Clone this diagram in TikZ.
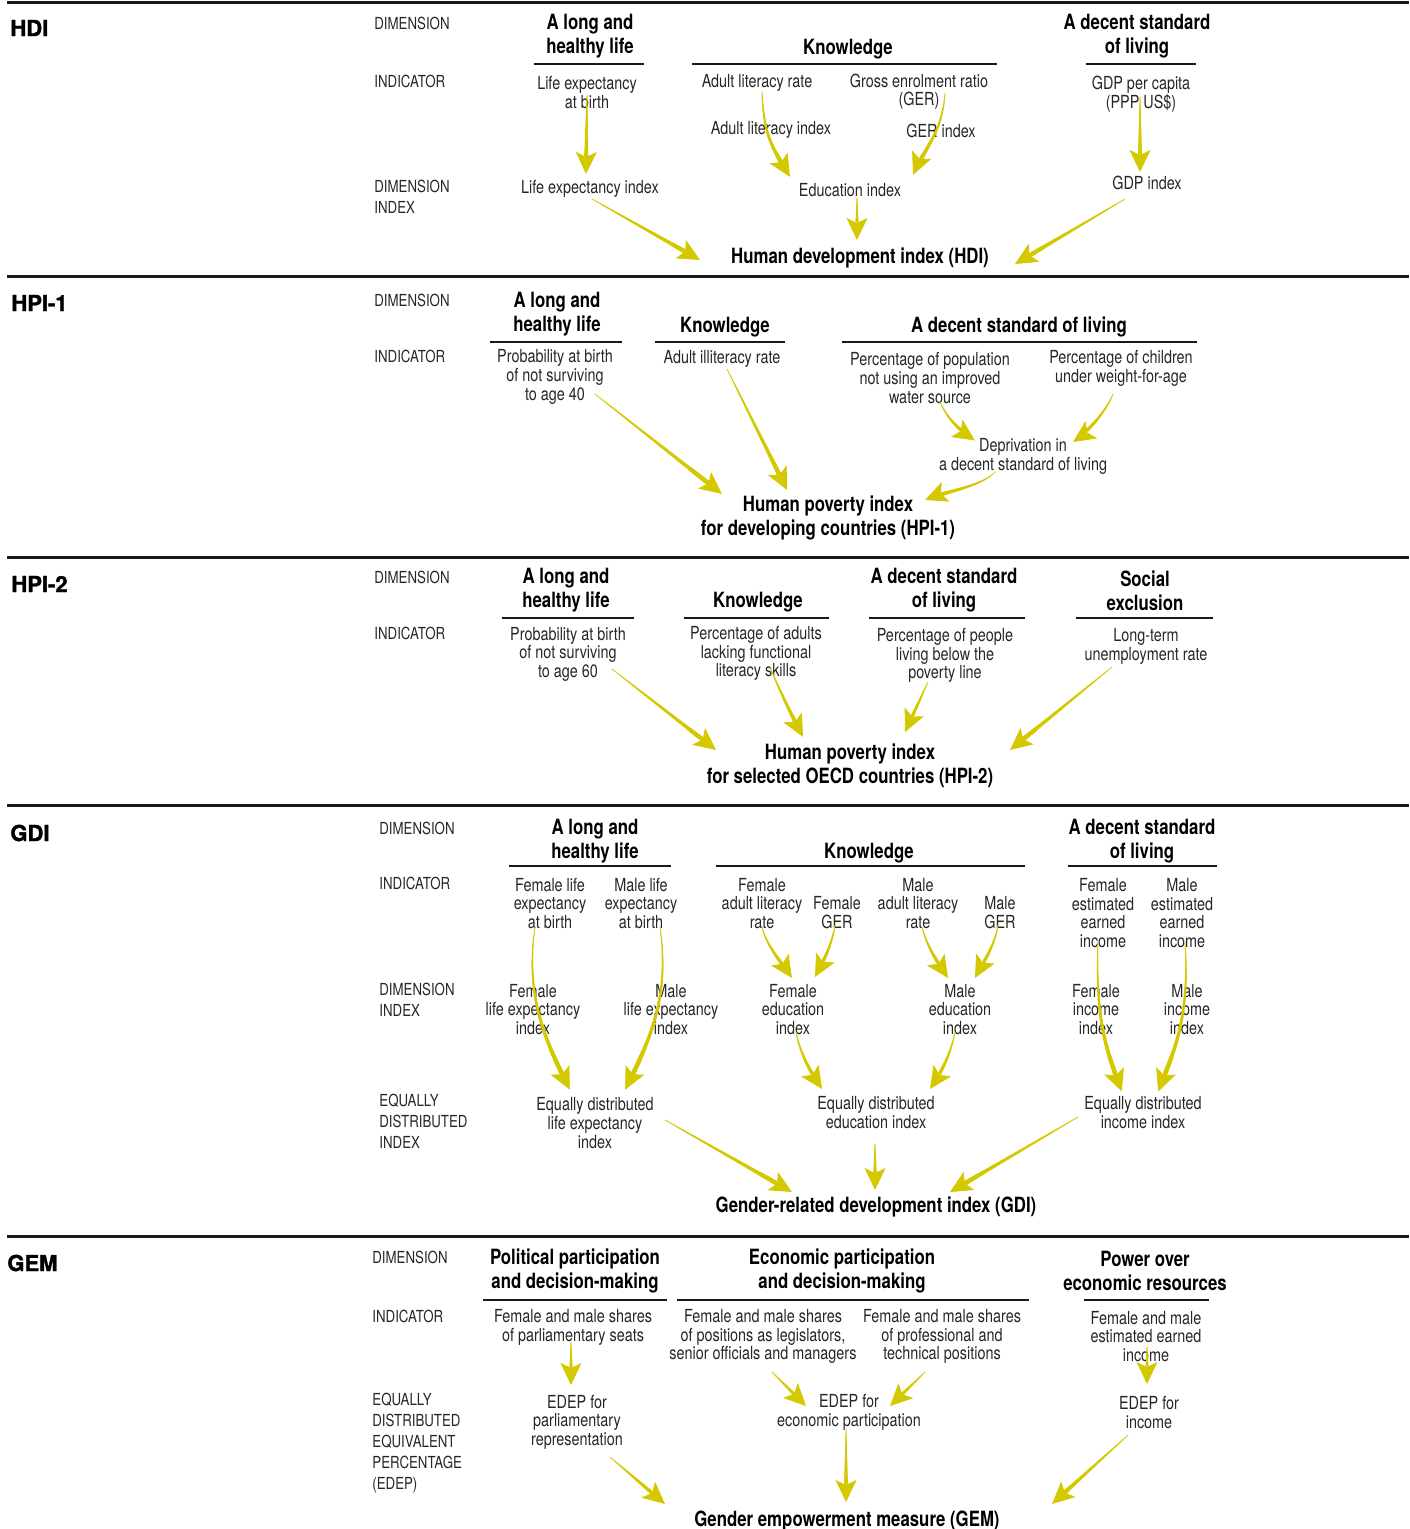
\documentclass[tikz,border=0pt]{standalone}
\usepackage{fontspec}
\setmainfont{TeX Gyre Heros}[FakeStretch=0.8]
\newfontfamily\secfont{TeX Gyre Heros}[BoldFeatures={FakeBold=1.6}]
\usepackage{tikz}
\usetikzlibrary{
  calc,%
  arrows.meta,%
  % tapered arrows
  decorations.markings
}
\definecolor{flowyellow}{RGB}{212,200,0}
\newcommand{\diagtext}{\fontsize{9}{9.3}\selectfont}
\newcommand{\diaghead}{\bfseries\fontsize{10.5}{12}\selectfont}
\newcommand{\diagrow}{\fontsize{8.3}{10.5}\selectfont}
\tikzset{
  txt/.style={font=\diagtext, align=center, inner sep=1pt, text=black!85, yshift=-1pt},
  head/.style={font=\diaghead, align=center, inner sep=1pt, yshift=-1pt},
  result/.style={font=\diaghead, align=center, inner sep=1pt, yshift=-1pt},
  rowlab/.style={font=\diagrow, align=left, anchor=west, inner sep=0pt, text=black!85},
  seclab/.style={font=\secfont\bfseries\fontsize{11}{12}\selectfont, anchor=west, inner sep=0pt},
  bigrule/.style={line width=1.5pt, black!90},
  headrule/.style={line width=0.75pt, black!90},
  flow/.style={
    postaction={decorate, decoration={markings,
      mark=between positions 0 and -9pt step 0.3pt with {%
        \pgfmathsetmacro\flowrad{0.25+1.0*\pgfkeysvalueof{/pgf/decoration/mark info/distance from start}/\pgfdecoratedpathlength}%
        \fill[flowyellow] (0,0) circle[radius=\flowrad pt];},
      mark=at position 1 with {\arrow[color=flowyellow]{Stealth[length=11pt,width=10.5pt,inset=2.5pt]}}}}
  },
}
\begin{document}
\begin{tikzpicture}[x=0.5pt, y=-0.5pt]
  \useasboundingbox (0,0) rectangle (1409,1529);
  % section rules
  \foreach \ry in {3,277,557,805,1236}
    \draw[bigrule] (7,\ry) -- (1409,\ry);

  %%% HDI
  \node[seclab] (hdi) at (10,28) {HDI};
  \node[rowlab] (hdirow1) at (374,23) {DIMENSION};
  \node[rowlab] (hdirow2) at (374,81) {INDICATOR};
  \node[rowlab] (hdirow3) at (374,196.5) {DIMENSION\\INDEX};
  \node[head] (hlife) at (590,34) {A long and\\healthy life};
  \node[head] (hknow) at (848,47) {Knowledge};
  \node[head] (hliving) at (1137,34) {A decent standard\\of living};
  \draw[headrule] (534,64) -- (644,64);
  \draw[headrule] (692,64) -- (997,64);
  \draw[headrule] (1086,64) -- (1196,64);
  \node[txt] (ileb) at (587,90.5) {Life expectancy\\at birth};
  \node[txt] (ialr) at (757,81) {Adult literacy rate};
  \node[txt] (iger) at (919,89.5) {Gross enrolment ratio\\(GER)};
  \node[txt] (igdp) at (1141,92) {GDP per capita\\(PPP US\$)};
  \node[txt] (xali) at (771,128) {Adult literacy index};
  \node[txt] (xger) at (941,129) {GER index};
  \node[txt] (xlei) at (590,187) {Life expectancy index};
  \node[txt] (xedu) at (850,188) {Education index};
  \node[txt] (xgdp) at (1147,181) {GDP index};
  \node[result] (rhdi) at (860,256) {Human development index (HDI)};
  \path[flow] ($(ileb.center)+(0,3)$) -- ($(xlei.center)+(-4,-15)$);
  \path[flow] ($(ialr.center)+(5,9)$) .. controls +(2,45) and +(-18,-30) .. ($(xedu.center)+(-60,-13)$);
  \path[flow] ($(iger.center)+(26,2)$) .. controls +(-3,40) and +(12,-28) .. ($(xedu.center)+(63,-15)$);
  \path[flow] ($(xedu.center)+(7,8)$) -- ($(rhdi.center)+(-3,-18)$);
  \path[flow] ($(xlei.center)+(2,10)$) -- ($(rhdi.center)+(-160,2)$);
  \path[flow] ($(igdp.center)+(-1,3)$) -- ($(xgdp.center)+(-7,-11)$);
  \path[flow] ($(xgdp.center)+(-22,16)$) -- ($(rhdi.center)+(155,6)$);

  %%% HPI-1
  \node[seclab] (hpione) at (11,303) {HPI-1};
  \node[rowlab] (hpionerow1) at (374,300) {DIMENSION};
  \node[rowlab] (hpionerow2) at (374,356) {INDICATOR};
  \node[head] (p1life) at (557,312) {A long and\\healthy life};
  \node[head] (p1know) at (725,325) {Knowledge};
  \node[head] (p1living) at (1019,325) {A decent standard of living};
  \draw[headrule] (490,342) -- (622,342);
  \draw[headrule] (655,342) -- (785,342);
  \draw[headrule] (842,342) -- (1197,342);
  \node[txt] (p1prob) at (555,375) {Probability at birth\\of not surviving\\to age 40};
  \node[txt] (p1illit) at (722,357) {Adult illiteracy rate};
  \node[txt] (p1water) at (930,376) {Percentage of population\\not using an improved\\water source};
  \node[txt] (p1child) at (1121,366.5) {Percentage of children\\under weight-for-age};
  \node[txt] (p1dep) at (1023,454.5) {Deprivation in\\a decent standard of living};
  \node[result] (rhpione) at (828,516) {Human poverty index\\for developing countries (HPI-1)};
  \path[flow] ($(p1prob.center)+(40,17)$) -- ($(rhpione.center)+(-106,-24)$);
  \path[flow] ($(p1illit.center)+(5,10)$) -- ($(rhpione.center)+(-41,-28)$);
  \path[flow] ($(p1water.center)+(10,24)$) .. controls +(8,18) and +(-15,-10) .. ($(p1dep.center)+(-48,-16)$);
  \path[flow] ($(p1child.center)+(-8,25.5)$) .. controls +(-8,20) and +(12,-8) .. ($(p1dep.center)+(50,-14.5)$);
  \path[flow] ($(p1dep.center)+(-28,15.5)$) .. controls +(-15,15) and +(25,-10) .. ($(rhpione.center)+(97,-18)$);

  %%% HPI-2
  \node[seclab] (hpitwo) at (11,584) {HPI-2};
  \node[rowlab] (hpitworow1) at (374,577) {DIMENSION};
  \node[rowlab] (hpitworow2) at (374,633) {INDICATOR};
  \node[head] (p2life) at (566,588.5) {A long and\\healthy life};
  \node[head] (p2know) at (758,600) {Knowledge};
  \node[head] (p2living) at (944,588.5) {A decent standard\\of living};
  \node[head] (p2social) at (1145,588.5) {Social\\exclusion};
  \draw[headrule] (502,618) -- (634,618);
  \draw[headrule] (684,618) -- (829,618);
  \draw[headrule] (869,618) -- (1025,618);
  \draw[headrule] (1076,618) -- (1213,618);
  \node[txt] (p2prob) at (568,652) {Probability at birth\\of not surviving\\to age 60};
  \node[txt] (p2lit) at (756,651.5) {Percentage of adults\\lacking functional\\literacy skills};
  \node[txt] (p2pov) at (945,653.5) {Percentage of people\\living below the\\poverty line};
  \node[txt] (p2unemp) at (1146,644.5) {Long-term\\unemployment rate};
  \node[result] (rhpitwo) at (850,764) {Human poverty index\\for selected OECD countries (HPI-2)};
  \path[flow] ($(p2prob.center)+(44,15)$) -- ($(rhpitwo.center)+(-134,-16)$);
  \path[flow] ($(p2lit.center)+(14,13.5)$) .. controls +(10,25) and +(-8,-15) .. ($(rhpitwo.center)+(-47,-29)$);
  \path[flow] ($(p2pov.center)+(-17,26.5)$) -- ($(rhpitwo.center)+(55,-34)$);
  \path[flow] ($(p2unemp.center)+(-34,20.5)$) -- ($(rhpitwo.center)+(160,-16)$);

  %%% GDI
  \node[seclab] (gdi) at (10,833) {GDI};
  \node[rowlab] (gdirow1) at (379,828) {DIMENSION};
  \node[rowlab] (gdirow2) at (379,883) {INDICATOR};
  \node[rowlab] (gdirow3) at (379,999.5) {DIMENSION\\INDEX};
  \node[rowlab] (gdirow4) at (379,1121) {EQUALLY\\DISTRIBUTED\\INDEX};
  \node[head] (glife) at (595,839) {A long and\\healthy life};
  \node[head] (gknow) at (869,851) {Knowledge};
  \node[head] (gliving) at (1142,839) {A decent standard\\of living};
  \draw[headrule] (509,866) -- (671,866);
  \draw[headrule] (716,866) -- (1025,866);
  \draw[headrule] (1068,866) -- (1217,866);
  \node[txt] (gfleb) at (550,901.5) {Female life\\expectancy\\at birth};
  \node[txt] (gmleb) at (641,901.5) {Male life\\expectancy\\at birth};
  \node[txt] (gfalr) at (762,901.5) {Female\\adult literacy\\rate};
  \node[txt] (gfger) at (837,910.5) {Female\\GER};
  \node[txt] (gmalr) at (918,901.5) {Male\\adult literacy\\rate};
  \node[txt] (gmger) at (1000,910.5) {Male\\GER};
  \node[txt] (gfinc) at (1103,911) {Female\\estimated\\earned\\income};
  \node[txt] (gminc) at (1182,911) {Male\\estimated\\earned\\income};
  \node[txt] (gflei) at (533,1007.5) {Female\\life expectancy\\index};
  \node[txt] (gmlei) at (671,1007.5) {Male\\life expectancy\\index};
  \node[txt] (gfedu) at (793,1007.5) {Female\\education\\index};
  \node[txt] (gmedu) at (960,1007.5) {Male\\education\\index};
  \node[txt] (gfii) at (1096,1007.5) {Female\\income\\index};
  \node[txt] (gmii) at (1187,1007.5) {Male\\income\\index};
  \node[txt] (geqlife) at (595,1121) {Equally distributed\\life expectancy\\index};
  \node[txt] (geqedu) at (876,1110.5) {Equally distributed\\education index};
  \node[txt] (geqinc) at (1143,1110.5) {Equally distributed\\income index};
  \node[result] (rgdi) at (876,1205) {Gender-related development index (GDI)};
  \path[flow] ($(gfleb.center)+(-15,23.5)$) .. controls +(-10,70) and +(-25,-50) .. ($(geqlife.center)+(-25,-33)$);
  \path[flow] ($(gmleb.center)+(19,23.5)$) .. controls +(10,70) and +(25,-50) .. ($(geqlife.center)+(30,-33)$);
  \path[flow] ($(gfalr.center)+(0,23.5)$) .. controls +(5,20) and +(-10,-15) .. ($(gfedu.center)+(-1,-31.5)$);
  \path[flow] ($(gfger.center)+(-2,12.5)$) .. controls +(-3,20) and +(8,-15) .. ($(gfedu.center)+(22,-32.5)$);
  \path[flow] ($(gmalr.center)+(4,23.5)$) .. controls +(5,20) and +(-10,-15) .. ($(gmedu.center)+(-12,-31.5)$);
  \path[flow] ($(gmger.center)+(-2,12.5)$) .. controls +(-3,20) and +(8,-15) .. ($(gmedu.center)+(15,-31.5)$);
  \path[flow] ($(gfedu.center)+(3,22.5)$) .. controls +(5,25) and +(-10,-15) .. ($(geqedu.center)+(-54,-23.5)$);
  \path[flow] ($(gmedu.center)+(-5,22.5)$) .. controls +(-5,25) and +(10,-15) .. ($(geqedu.center)+(54,-23.5)$);
  \path[flow] ($(gfinc.center)+(-5,29)$) .. controls +(-3,80) and +(-15,-40) .. ($(geqinc.center)+(-21,-20.5)$);
  \path[flow] ($(gminc.center)+(3,29)$) .. controls +(5,80) and +(15,-40) .. ($(geqinc.center)+(15,-20.5)$);
  \path[flow] ($(geqlife.center)+(70,-3)$) -- ($(rgdi.center)+(-84,-15)$);
  \path[flow] ($(geqedu.center)+(-1,31.5)$) -- ($(rgdi.center)+(-1,-17)$);
  \path[flow] ($(geqinc.center)+(-65,4.5)$) -- ($(rgdi.center)+(74,-15)$);

  %%% GEM
  \node[seclab] (gem) at (7,1263) {GEM};
  \node[rowlab] (gemrow1) at (372,1257) {DIMENSION};
  \node[rowlab] (gemrow2) at (372,1316) {INDICATOR};
  \node[rowlab] (gemrow3) at (372,1443.5) {EQUALLY\\DISTRIBUTED\\EQUIVALENT\\PERCENTAGE\\(EDEP)};
  \node[head] (mpol) at (575,1269) {Political participation\\and decision-making};
  \node[head] (mecon) at (842,1269) {Economic participation\\and decision-making};
  \node[head] (mpow) at (1145,1269) {Power over\\economic resources};
  \draw[headrule] (483,1300) -- (667,1300);
  \draw[headrule] (677,1300) -- (1029,1300);
  \draw[headrule] (1084,1300) -- (1209,1300);
  \node[txt] (mparl) at (573,1325.5) {Female and male shares\\of parliamentary seats};
  \node[txt] (mlegis) at (763,1334.5) {Female and male shares\\of positions as legislators,\\senior officials and managers};
  \node[txt] (mprof) at (942,1334.5) {Female and male shares\\of professional and\\technical positions};
  \node[txt] (minc) at (1146,1334.5) {Female and male\\estimated earned\\income};
  \node[txt] (meparl) at (577,1420) {EDEP for\\parliamentary\\representation};
  \node[txt] (meecon) at (849,1410.5) {EDEP for\\economic participation};
  \node[txt] (meinc) at (1149,1410.5) {EDEP for\\income};
  \node[result] (rgem) at (847,1519) {Gender empowerment measure (GEM)};
  \path[flow] ($(mparl.center)+(-2,14.5)$) -- ($(meparl.center)+(-6,-37)$);
  \path[flow] ($(mlegis.center)+(9,35.5)$) -- ($(meecon.center)+(-43,-6.5)$);
  \path[flow] ($(mprof.center)+(-17,35.5)$) -- ($(meecon.center)+(41,-6.5)$);
  \path[flow] ($(minc.center)+(1,10.5)$) -- ($(meinc.center)+(-2,-28.5)$);
  \path[flow] ($(meparl.center)+(33,35)$) -- ($(rgem.center)+(-182,-17)$);
  \path[flow] ($(meecon.center)+(-3,17.5)$) -- ($(rgem.center)+(-1,-19)$);
  \path[flow] ($(meinc.center)+(-21,22.5)$) -- ($(rgem.center)+(205,-17)$);
\end{tikzpicture}
\end{document}
